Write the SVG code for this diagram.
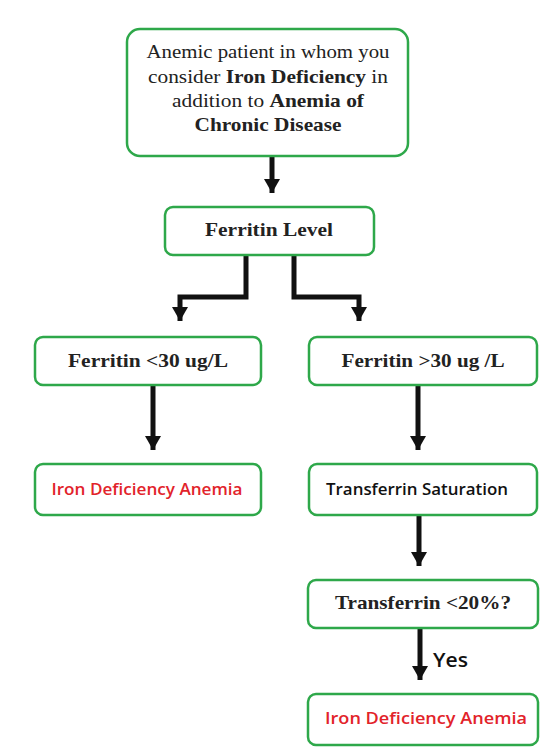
<svg xmlns="http://www.w3.org/2000/svg" width="544" height="756" viewBox="0 0 544 756">
<style>
.box{fill:#fff;stroke:#2ea84a;stroke-width:2.5}
.serif{font-family:"Liberation Serif","Times New Roman",serif;font-size:19px;fill:#222;text-anchor:middle}
.b{font-weight:bold}
.sans{font-family:"Open Sans","Liberation Sans",Arial,sans-serif;font-size:16px;font-weight:600;text-anchor:middle}
.red{fill:#e2232a}
.conn{fill:none;stroke:#111;stroke-width:5}
</style>
<defs>
<marker id="ah" markerUnits="userSpaceOnUse" markerWidth="16" markerHeight="16" refX="14" refY="8" orient="auto">
<path d="M0,0 L14,8 L0,16 Z" fill="#111"/>
</marker>
</defs>
<rect width="544" height="756" fill="#fff"/>
<g id="connectors">
<path class="conn" d="M272,157 V193" marker-end="url(#ah)"/>
<path class="conn" d="M246,255 V297 H180 V321" marker-end="url(#ah)"/>
<path class="conn" d="M294,255 V297 H359 V321" marker-end="url(#ah)"/>
<path class="conn" d="M153,385 V450" marker-end="url(#ah)"/>
<path class="conn" d="M418,385 V450" marker-end="url(#ah)"/>
<path class="conn" d="M419,515 V566" marker-end="url(#ah)"/>
<path class="conn" d="M420,628 V680" marker-end="url(#ah)"/>
<text x="433" y="667" font-family="'Open Sans','Liberation Sans',Arial,sans-serif" font-size="19" font-weight="600" fill="#111" textLength="35" lengthAdjust="spacingAndGlyphs">Yes</text>
</g>
<g id="start">
<rect class="box" x="127" y="29" width="281" height="127" rx="13"/>
<text class="serif" x="268" y="58" textLength="243" lengthAdjust="spacingAndGlyphs">Anemic patient in whom you</text>
<text class="serif" x="268" y="83" textLength="240" lengthAdjust="spacingAndGlyphs">consider <tspan class="b">Iron Deficiency</tspan> in</text>
<text class="serif" x="268" y="107" textLength="192" lengthAdjust="spacingAndGlyphs">addition to <tspan class="b">Anemia of</tspan></text>
<text class="serif b" x="268" y="131" textLength="147" lengthAdjust="spacingAndGlyphs">Chronic Disease</text>
</g>
<g id="ferritin-level">
<rect class="box" x="165" y="207" width="209" height="48" rx="8"/>
<text class="serif b" x="269" y="236" textLength="128" lengthAdjust="spacingAndGlyphs">Ferritin Level</text>
</g>
<g id="ferritin-low">
<rect class="box" x="35" y="337" width="226" height="48" rx="8"/>
<text class="serif b" x="148" y="367" textLength="160" lengthAdjust="spacingAndGlyphs">Ferritin &lt;30 ug/L</text>
</g>
<g id="ferritin-high">
<rect class="box" x="309" y="337" width="228" height="48" rx="8"/>
<text class="serif b" x="423" y="367" textLength="163" lengthAdjust="spacingAndGlyphs">Ferritin &gt;30 ug /L</text>
</g>
<g id="ida-left">
<rect class="box" x="35" y="464" width="226" height="51" rx="8"/>
<text class="sans red" x="147" y="495" textLength="191" lengthAdjust="spacingAndGlyphs">Iron Deficiency Anemia</text>
</g>
<g id="tsat">
<rect class="box" x="309" y="464" width="228" height="51" rx="8"/>
<text class="sans" x="417" y="495" fill="#111" textLength="182" lengthAdjust="spacingAndGlyphs">Transferrin Saturation</text>
</g>
<g id="tsat-low">
<rect class="box" x="308" y="580" width="230" height="48" rx="8"/>
<text class="serif b" x="423" y="609" textLength="176" lengthAdjust="spacingAndGlyphs">Transferrin &lt;20%?</text>
</g>
<g id="ida-right">
<rect class="box" x="308" y="694" width="230" height="51" rx="8"/>
<text class="sans red" x="426" y="724" textLength="202" lengthAdjust="spacingAndGlyphs">Iron Deficiency Anemia</text>
</g>
</svg>
